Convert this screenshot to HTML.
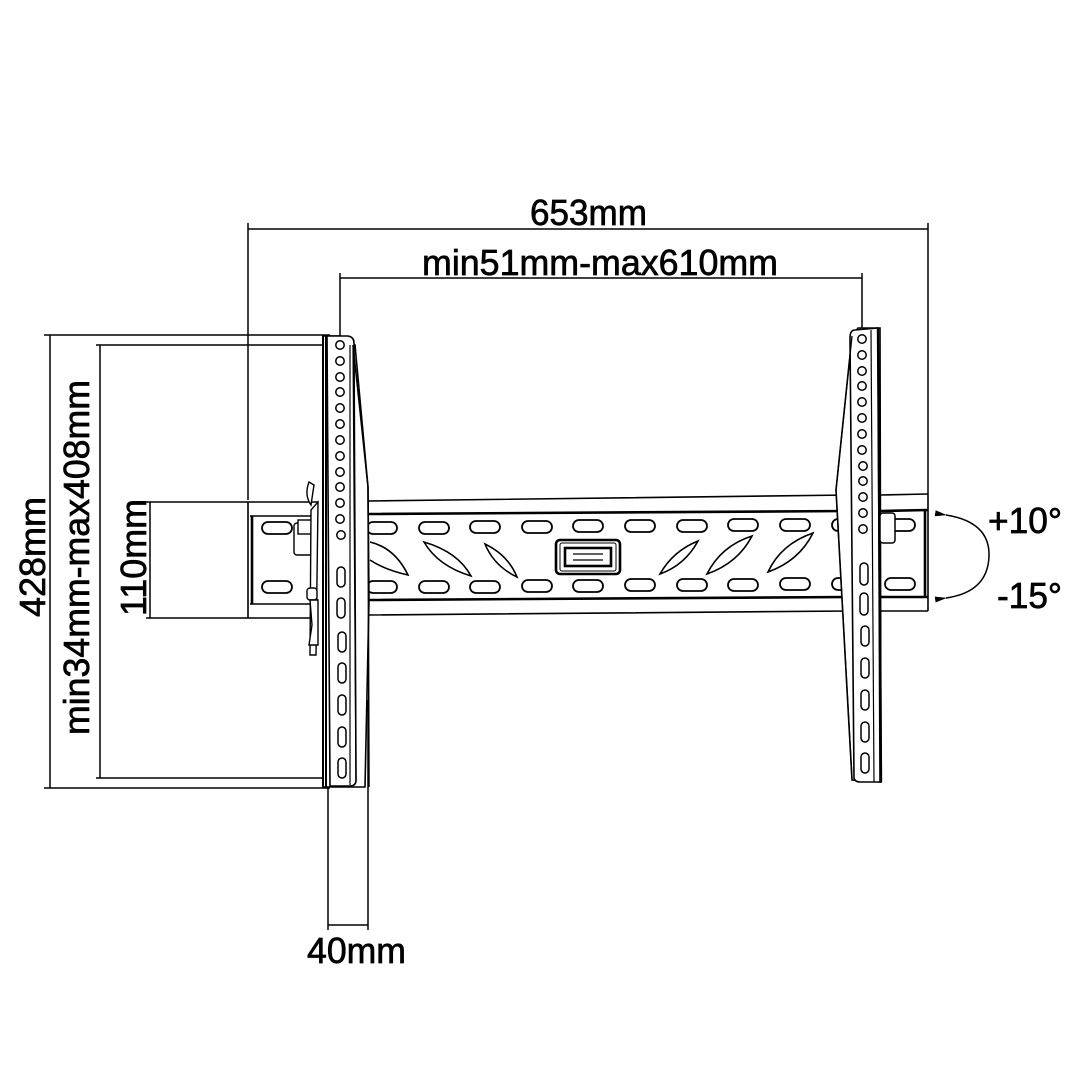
<!DOCTYPE html>
<html><head><meta charset="utf-8"><style>
html,body{margin:0;padding:0;background:#fff}
svg{display:block}
text{font-family:"Liberation Sans",sans-serif;fill:#000;stroke:#000;stroke-width:0.7}
</style></head><body>
<svg width="1080" height="1080" viewBox="0 0 1080 1080" xmlns="http://www.w3.org/2000/svg">
<rect width="1080" height="1080" fill="#fff"/>
<defs>
<marker id="ah" markerWidth="12" markerHeight="8" refX="1" refY="4" orient="auto-start-reverse" markerUnits="userSpaceOnUse">
<path d="M12,1 L0,4 L12,7 Z" fill="#000"/>
</marker>
</defs>
<g fill="none" stroke="#000" stroke-width="1.5">
<path d="M248,229 H928 M248,223 V500 M928,223 V494"/>
<path d="M340,278 H862 M340,273 V340 M862,273 V330"/>
<path d="M50,335 V788 M44,335 H330 M44,788 H330"/>
<path d="M100,345 V778 M96,345 H335 M96,778 H335"/>
<path d="M150,502 V618 M146,502 H248 M146,618 H248"/>
<path d="M328,788 V930 M368,700 V930 M328,925 H368"/>

<g stroke-width="1.6">
<path d="M368,501 L850,495 M880,495 L928,494"/>
<path d="M368,514 L850,511 M880,511 L928,510" stroke-width="2.6"/>
<path d="M368,600 L850,597 M880,597 L928,597" stroke-width="2.6"/>
<path d="M368,615 L850,611 M880,611 L928,611"/>
<path d="M928,494 V611"/>
<path d="M925,511 V597" stroke-width="2.6"/>
<path d="M248,502 V618 M248,502 H318 M248,618 H318 M250,516 H318 M250,604 H318" />
<path d="M252,516 V604" stroke-width="2.6"/>
</g>
<g stroke-width="1.8">
<rect x="262" y="522" width="30" height="12" rx="6"/>
<rect x="262" y="581" width="30" height="12" rx="6"/>
<rect x="367" y="522" width="30" height="12" rx="6"/>
<rect x="419" y="522" width="30" height="12" rx="6"/>
<rect x="470" y="521" width="30" height="12" rx="6"/>
<rect x="522" y="521" width="30" height="12" rx="6"/>
<rect x="573" y="520" width="30" height="12" rx="6"/>
<rect x="625" y="520" width="30" height="12" rx="6"/>
<rect x="677" y="520" width="30" height="12" rx="6"/>
<rect x="728" y="519" width="30" height="12" rx="6"/>
<rect x="780" y="519" width="30" height="12" rx="6"/>
<rect x="832" y="519" width="30" height="12" rx="6"/>
<rect x="885" y="519" width="30" height="12" rx="6"/>
<rect x="367" y="581" width="30" height="12" rx="6"/>
<rect x="419" y="581" width="30" height="12" rx="6"/>
<rect x="470" y="581" width="30" height="12" rx="6"/>
<rect x="522" y="580" width="30" height="12" rx="6"/>
<rect x="573" y="580" width="30" height="12" rx="6"/>
<rect x="625" y="579" width="30" height="12" rx="6"/>
<rect x="677" y="579" width="30" height="12" rx="6"/>
<rect x="728" y="579" width="30" height="12" rx="6"/>
<rect x="780" y="578" width="30" height="12" rx="6"/>
<rect x="832" y="578" width="30" height="12" rx="6"/>
<rect x="885" y="578" width="30" height="12" rx="6"/>
</g>
<g stroke-width="1.6">
<path d="M370,542 Q395,548 408,575 Q385,570 370,560"/>
<path d="M424,542 Q458,552 471,576 Q438,566 424,542 Z"/>
<path d="M485,544 Q508,555 517,577 Q494,566 485,544 Z"/>
<path d="M698,541 Q673,551 660,574 Q685,565 698,541 Z"/>
<path d="M752,536 Q721,546 707,574 Q738,563 752,536 Z"/>
<path d="M813,533 Q781,544 768,572 Q799,561 813,533 Z"/>
</g>
<rect x="556" y="540" width="64" height="34" rx="4" stroke-width="2.6" fill="#fff"/>
<rect x="560" y="543" width="56" height="28" rx="2" stroke-width="1"/>
<rect x="565" y="548" width="46" height="18" stroke-width="2.6"/>
<path d="M573,554 H603 M573,560 H603" stroke-width="1.2"/>

<g fill="#fff" stroke-width="1.6">
<path d="M368,487 L355,345 L340,336 L323,336 L323,787 L365,787 L369,600 Z"/>
<path d="M327,336 L348,336 Q354,337 354,343 L356,780 Q356,786 350,786 L330,786 Z"/>
</g>
<path d="M323,336 V787 M326,336 V787" stroke-width="2"/>
<path d="M353,345 L368,487 L369,787" stroke-width="1.5"/>
<path d="M353,345 L356,780 M350,345 V785" stroke-width="1.2"/>
<g fill="#fff" stroke-width="1.4">
<rect x="294" y="523" width="18" height="32" rx="3"/>
<rect x="298" y="520" width="14" height="14"/>
<path d="M309,482 Q304,495 311,505 L314,485 Z"/>
<path d="M311,510 L318,502 L316,655 L310,655 Z"/>
<rect x="307" y="588" width="10" height="12" rx="3"/>
<path d="M310,600 L312,625 L309,645 L318,645 L318,600 Z"/>
</g>
<g stroke-width="1.5">
<circle cx="340" cy="345" r="4.2"/><circle cx="340" cy="361" r="4.2"/><circle cx="340" cy="377" r="4.2"/>
<circle cx="340" cy="392" r="4.2"/><circle cx="340" cy="408" r="4.2"/><circle cx="340" cy="424" r="4.2"/>
<circle cx="340" cy="440" r="4.2"/><circle cx="340" cy="456" r="4.2"/><circle cx="340" cy="472" r="4.2"/>
<circle cx="340" cy="487" r="4.2"/><circle cx="340" cy="503" r="4.2"/><circle cx="340" cy="519" r="4.2"/>
<circle cx="341" cy="535" r="4.2"/>
<rect x="337" y="567" width="8" height="20" rx="4"/>
<rect x="337" y="598" width="8" height="20" rx="4"/>
<rect x="338" y="632" width="8" height="20" rx="4"/>
<rect x="338" y="663" width="8" height="20" rx="4"/>
<rect x="338" y="695" width="8" height="20" rx="4"/>
<rect x="338" y="727" width="8" height="20" rx="4"/>
<rect x="338" y="758" width="8" height="20" rx="4"/>
</g>

<g fill="#fff" stroke-width="1.6">
<path d="M852,336 L836,490 L852,780 L881,782 L880,328 L858,328 Z"/>
<path d="M855,330 Q850,330 850,338 L854,778 Q855,782 860,782 L880,782 L878,328 Z"/>
</g>
<path d="M878,328 L881,782" stroke-width="2.4"/>
<path d="M871,330 L874,782" stroke-width="1.2"/>
<path d="M852,336 L836,490 L852,778" stroke-width="1.3"/>
<g fill="#fff" stroke-width="1.5">
<rect x="880" y="513" width="15" height="30" rx="3"/>
</g>
<g stroke-width="1.5">
<circle cx="862" cy="339" r="4.2"/><circle cx="862" cy="355" r="4.2"/><circle cx="862" cy="371" r="4.2"/>
<circle cx="862" cy="386" r="4.2"/><circle cx="862" cy="402" r="4.2"/><circle cx="862" cy="418" r="4.2"/>
<circle cx="862" cy="434" r="4.2"/><circle cx="862" cy="450" r="4.2"/><circle cx="863" cy="466" r="4.2"/>
<circle cx="863" cy="481" r="4.2"/><circle cx="863" cy="497" r="4.2"/><circle cx="863" cy="513" r="4.2"/>
<circle cx="863" cy="529" r="4.2"/>
<rect x="860" y="563" width="8" height="22" rx="4"/>
<rect x="860" y="593" width="8" height="22" rx="4"/>
<rect x="861" y="626" width="8" height="20" rx="4"/>
<rect x="861" y="658" width="8" height="20" rx="4"/>
<rect x="861" y="690" width="8" height="20" rx="4"/>
<rect x="861" y="722" width="8" height="20" rx="4"/>
<rect x="861" y="753" width="8" height="20" rx="4"/>
</g>

<path d="M946,515 Q990,522 989,556 Q988,592 946,598" stroke-width="1.5" marker-start="url(#ah)" marker-end="url(#ah)"/>
</g>

<text x="530" y="225" font-size="36" textLength="117" lengthAdjust="spacingAndGlyphs">653mm</text>
<text x="422" y="275" font-size="36" textLength="356" lengthAdjust="spacingAndGlyphs">min51mm-max610mm</text>
<text x="307" y="963" font-size="36" textLength="99" lengthAdjust="spacingAndGlyphs">40mm</text>
<text x="988" y="533" font-size="36" textLength="74" lengthAdjust="spacingAndGlyphs">+10°</text>
<text x="997" y="608" font-size="36" textLength="65" lengthAdjust="spacingAndGlyphs">-15°</text>
<text transform="translate(45,617) rotate(-90)" font-size="36" textLength="120" lengthAdjust="spacingAndGlyphs">428mm</text>
<text transform="translate(89,735) rotate(-90)" font-size="36" textLength="355" lengthAdjust="spacingAndGlyphs">min34mm-max408mm</text>
<text transform="translate(146,616) rotate(-90)" font-size="36" textLength="117" lengthAdjust="spacingAndGlyphs">110mm</text>
</svg>
</body></html>
